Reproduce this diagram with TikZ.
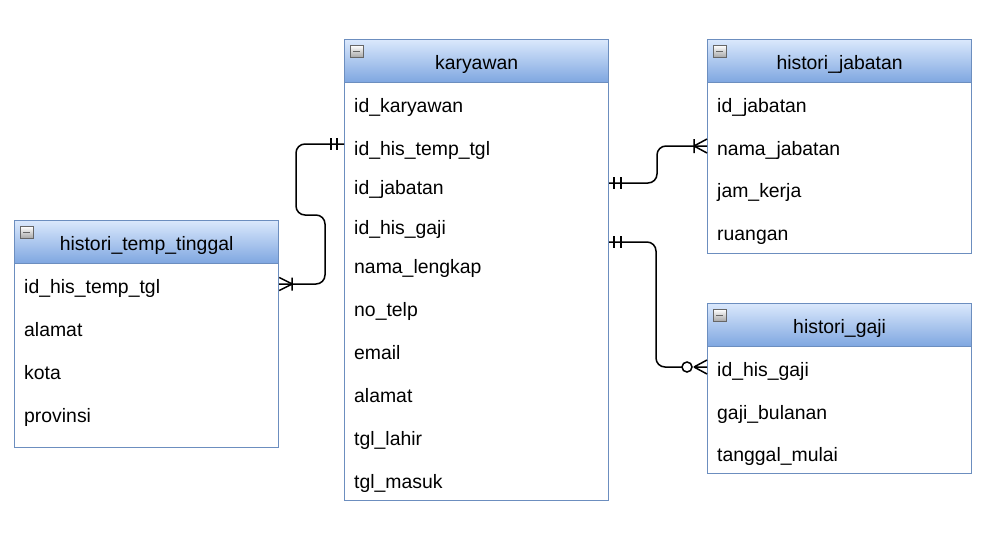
\documentclass[tikz,border=0pt]{standalone}
\usepackage{fontspec}
\setmainfont{Liberation Sans}
\definecolor{bordc}{HTML}{6C8EBF}
\definecolor{hdtop}{HTML}{DAE8FC}
\definecolor{hdbot}{HTML}{7EA6E0}
\newcommand\rowfont{\fontsize{19.4}{23}\selectfont}
\begin{document}
\begin{tikzpicture}[x=1pt,y=-1pt,
  box/.style={draw=bordc, line width=1.2pt, fill=white, anchor=north west, inner sep=0pt, minimum width=264pt},
  hdr/.style={draw=bordc, line width=1.2pt, top color=hdtop, bottom color=hdbot, anchor=north west,
     minimum width=264pt, minimum height=43pt, inner sep=0pt, font=\rowfont, text height=21.5pt, text depth=4.3pt},
  icon/.style={draw=black!60, line width=0.8pt, top color=white, bottom color=black!35, anchor=north west,
     minimum width=13pt, minimum height=12pt, inner sep=0pt,
     path picture={\draw[line width=1.6pt] ([xshift=3pt]path picture bounding box.west) -- ([xshift=-3pt]path picture bounding box.east);}},
  rowtxt/.style={anchor=west, inner sep=0pt, text height=22pt, text depth=4.3pt, font=\rowfont},
  conn/.style={line width=1.5pt, rounded corners=9pt},
  endm/.style={line width=1.5pt}]
\useasboundingbox[fill=white] (0,0) rectangle (998,543);

% ---------- karyawan ----------
\node[box, minimum height=461pt] (kar) at (344,39) {};
\node[hdr] (karh) at (344,39) {karyawan};
\node[icon] (kari) at ([xshift=6pt,yshift=-6pt]karh.north west) {};
\node[rowtxt] (k1) at (354,104) {id\_karyawan};
\node[rowtxt] (k2) at (354,147) {id\_his\_temp\_tgl};
\node[rowtxt] (k3) at (354,186) {id\_jabatan};
\node[rowtxt] (k4) at (354,226) {id\_his\_gaji};
\node[rowtxt] (k5) at (354,265) {nama\_lengkap};
\node[rowtxt] (k6) at (354,308) {no\_telp};
\node[rowtxt] (k7) at (354,351) {email};
\node[rowtxt] (k8) at (354,394) {alamat};
\node[rowtxt] (k9) at (354,437) {tgl\_lahir};
\node[rowtxt] (k10) at (354,480) {tgl\_masuk};

% ---------- histori_jabatan ----------
\node[box, minimum height=214pt] (jab) at (707,39) {};
\node[hdr] (jabh) at (707,39) {histori\_jabatan};
\node[icon] (jabi) at ([xshift=6pt,yshift=-6pt]jabh.north west) {};
\node[rowtxt] (j1) at (717,104) {id\_jabatan};
\node[rowtxt] (j2) at (717,147) {nama\_jabatan};
\node[rowtxt] (j3) at (717,189) {jam\_kerja};
\node[rowtxt] (j4) at (717,232) {ruangan};

% ---------- histori_temp_tinggal ----------
\node[box, minimum height=227pt] (tt) at (14,220) {};
\node[hdr] (tth) at (14,220) {histori\_temp\_tinggal};
\node[icon] (tti) at ([xshift=6pt,yshift=-6pt]tth.north west) {};
\node[rowtxt] (t1) at (24,285) {id\_his\_temp\_tgl};
\node[rowtxt] (t2) at (24,328) {alamat};
\node[rowtxt] (t3) at (24,371) {kota};
\node[rowtxt] (t4) at (24,414) {provinsi};

% ---------- histori_gaji ----------
\node[box, minimum height=170pt] (gaji) at (707,303) {};
\node[hdr] (gajih) at (707,303) {histori\_gaji};
\node[icon] (gajii) at ([xshift=6pt,yshift=-6pt]gajih.north west) {};
\node[rowtxt] (g1) at (717,368) {id\_his\_gaji};
\node[rowtxt] (g2) at (717,411) {gaji\_bulanan};
\node[rowtxt] (g3) at (717,453) {tanggal\_mulai};

% ---------- connector end points ----------
\coordinate (a1) at ([yshift=3pt]kar.west |- k2);
\coordinate (b1) at ([yshift=1pt]tt.east |- t1);
\coordinate (a2) at ([yshift=3pt]kar.east |- k3);
\coordinate (b2) at ([yshift=1pt]jab.west |- j2);
\coordinate (a3) at ([yshift=-16pt]kar.east |- k4);
\coordinate (b3) at ([yshift=1pt]gaji.west |- g1);

% connector 1: karyawan.id_his_temp_tgl -> histori_temp_tinggal
\draw[conn] (a1) -- (a1 -| 296,0) -- (296,215) -- (325,215) -- (b1 -| 325,0) -- (b1);
\draw[endm, shift={(a1)}] (-7,-6) -- (-7,6) (-13,-6) -- (-13,6);
\draw[endm, shift={(b1)}] (13,0) -- (0,-6.5) (13,0) -- (0,6.5) (13,-6.5) -- (13,6.5);

% connector 2: karyawan.id_jabatan -> histori_jabatan
\draw[conn] (a2) -- (a2 -| 657,0) -- (b2 -| 657,0) -- (b2);
\draw[endm, shift={(a2)}] (5,-6) -- (5,6) (12,-6) -- (12,6);
\draw[endm, shift={(b2)}] (-13,0) -- (0,-7) (-13,0) -- (0,7) (-13,-7) -- (-13,7);

% connector 3: karyawan.id_his_gaji -> histori_gaji
\draw[conn] (a3) -- (a3 -| 656,0) -- (b3 -| 656,0) -- ([xshift=-25pt]b3);
\draw[endm, shift={(a3)}] (5,-6) -- (5,6) (12,-6) -- (12,6);
\draw[endm, shift={(b3)}] (-13,0) -- (0,-7) (-13,0) -- (0,7) (-13,0) -- (0,0);
\draw[endm, fill=white, shift={(b3)}] (-20,0) circle (5);
\end{tikzpicture}
\end{document}
